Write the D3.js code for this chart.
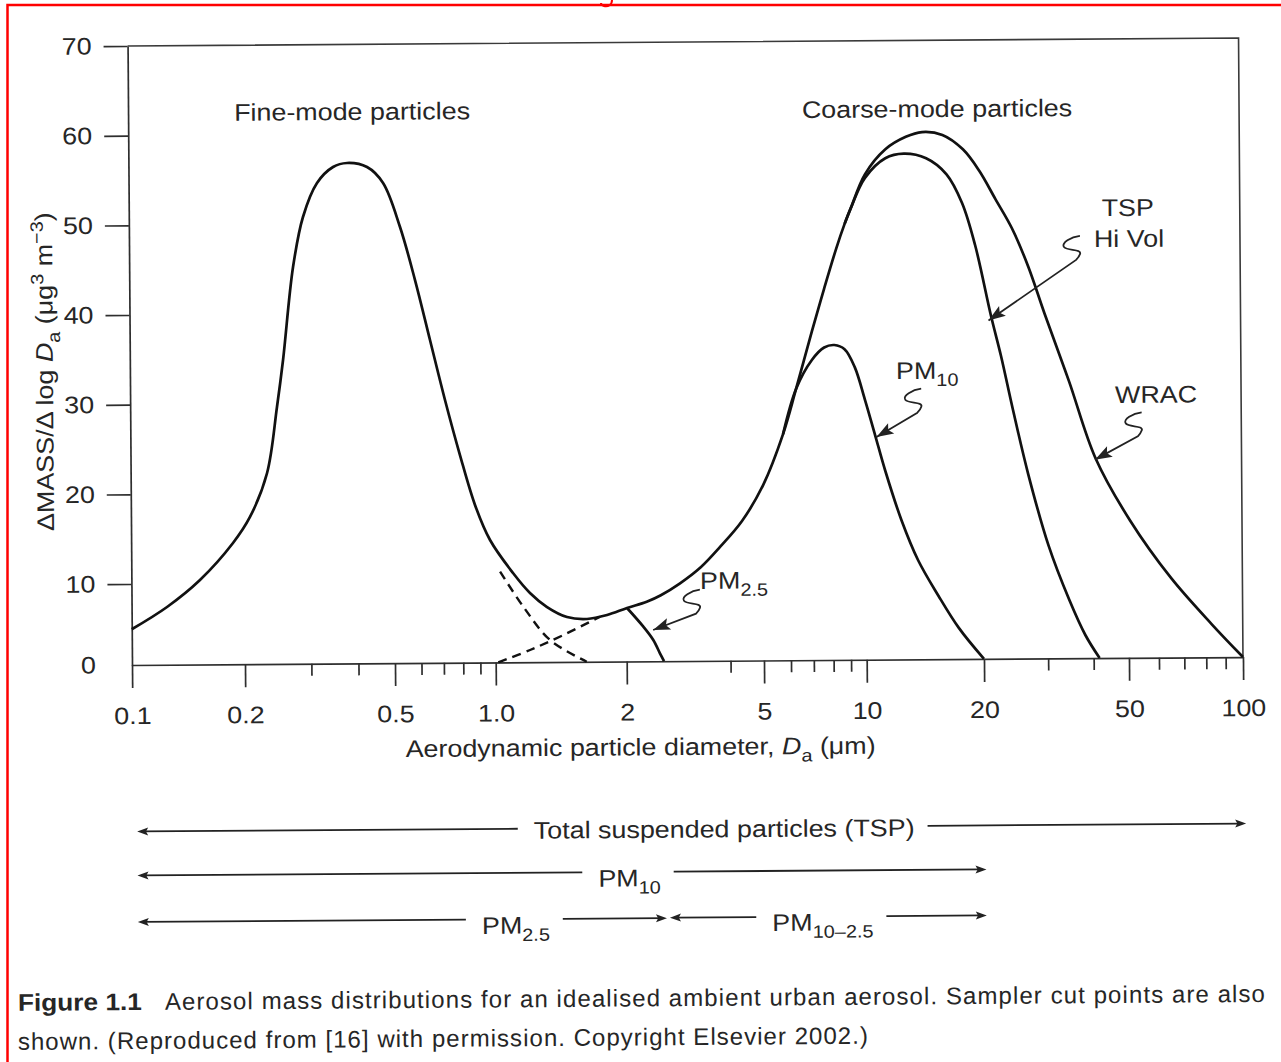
<!DOCTYPE html>
<html><head><meta charset="utf-8">
<script src="https://cdn.jsdelivr.net/npm/d3@7"></script>
<style>
html,body{margin:0;padding:0;background:#fff;}
svg{display:block;}
text{font-family:"Liberation Sans",Arial,Helvetica,sans-serif;fill:#262626;}
</style></head><body>
<svg id="chart" width="1281" height="1062"></svg>
<script>
// ---------------- data ----------------
const xTickValues = [0.1, 0.2, 0.5, 1, 2, 5, 10, 20, 50, 100];
const xTickLabels = ["0.1", "0.2", "0.5", "1.0", "2", "5", "10", "20", "50", "100"];
const xMinorTicks = [0.3, 0.4, 0.6, 0.7, 0.8, 0.9, 4, 6, 7, 8, 9, 30, 40, 60, 70, 80, 90];
const yTickValues = [0, 10, 20, 30, 40, 50, 60, 70];

// total distribution (fine mode + coarse mode, as collected by WRAC)
const totalD = [0.1, 0.1243, 0.1523, 0.1868, 0.2075, 0.2308, 0.2459, 0.2557, 0.2729, 0.2906, 0.3171, 0.35, 0.3813, 0.4307, 0.4747, 0.5288, 0.5848, 0.6464, 0.7146, 0.79, 0.874, 0.9676, 1.0997, 1.202, 1.315, 1.461, 1.624, 1.806, 2.01, 2.293, 2.52, 2.866, 3.299, 3.749, 4.347, 5.009, 5.749, 6.29, 7.018, 7.636, 8.308, 8.799, 9.176, 10.1, 11.41, 12.88, 14.18, 15.99, 18.04, 19.85, 21.97, 24.31, 26.92, 29.78, 34.67, 40.84, 50.68, 64.79, 82.86, 100];
const totalV = [4.41, 7.13, 10.39, 14.49, 17.38, 22.27, 29.62, 34.86, 45.22, 50.79, 54.57, 56.34, 56.78, 56.31, 54.52, 49.6, 43.67, 36.97, 30.27, 24.12, 18.54, 14.62, 10.92, 8.54, 6.79, 5.54, 5.28, 5.75, 6.6, 7.36, 8.15, 9.6, 11.44, 13.66, 16.54, 20.5, 26.2, 31.22, 37.63, 42.37, 46.87, 49.59, 51.32, 55.1, 57.88, 59.25, 59.77, 59.43, 57.81, 55.41, 52.21, 49.0, 44.7, 39.44, 31.85, 23.26, 16.26, 9.83, 4.07, 0];

// TSP Hi Vol branch
const tspD = [8.799, 9.176, 10.1, 11.4, 12.72, 14.51, 16.36, 17.91, 19.31, 21.24, 22.58, 24.3, 26.68, 30.24, 34.33, 37.99, 41.53];
const tspV = [49.59, 51.32, 54.7, 56.88, 57.38, 56.85, 55.04, 51.83, 47.13, 39.2, 34.73, 28.7, 21.52, 13.54, 7.28, 2.86, 0];

// PM10 branch
const pm10D = [5.749, 6.29, 7.008, 7.617, 8.163, 8.742, 9.357, 10.0, 10.61, 11.25, 12.37, 13.6, 15.32, 17.26, 20];
const pm10V = [26.2, 31.22, 34.44, 35.82, 36.09, 35.61, 33.61, 30.01, 26.02, 22.03, 16.44, 12.05, 7.84, 3.85, 0];

// PM2.5 branch
const pm25D = [2.01, 2.239, 2.391, 2.498, 2.566];
const pm25V = [6.6, 4.28, 2.63, 0.98, 0];

// dashed tails of the two modes
const fineTailD = [1.027, 1.16, 1.334, 1.619];
const fineTailV = [11.08, 6.85, 2.72, 0];
const coarseTailD = [1.014, 1.2, 1.432, 1.74];
const coarseTailV = [0, 1.5, 3.32, 5.55];

// annotation targets on curves (D, value)
const annNames = ["TSP Hi Vol", "PM10", "WRAC", "PM2.5"];
const annTargetD = [20.9, 10.7, 40.7, 2.39];
const annTargetV = [38.7, 25.8, 23.1, 3.86];

// size ranges shown below the chart
const rangeNames = ["TSP", "PM10", "PM2.5", "PM10-2.5"];
const rangeFrom = [0.1, 0.1, 0.1, 2.5];
const rangeTo = [100, 20, 2.5, 20];

// ---------------- layout ----------------
const STRETCH = 1.12;
const xRange = [132, 245, 395, 495.7, 626.7, 764, 866.7, 984, 1129, 1243];
const svg = d3.select("#chart");

// red frame of the scan
svg.append("rect").attr("x", 7.5).attr("y", 5).attr("width", 1400).attr("height", 1200)
  .attr("fill", "none").attr("stroke", "#ff0000").attr("stroke-width", 2.5);
svg.append("path").attr("d", "M612,0 C612,5 608,7 604,6 C602,5.5 601,4 601,3")
  .attr("fill", "none").attr("stroke", "#ff0000").attr("stroke-width", 2);

const g = svg.append("g").attr("transform", "rotate(-0.41 132 665)");

const x = d3.scaleLog().domain(xTickValues).range(xRange);
const y = d3.scaleLinear().domain([0, 10, 70]).range([665, 584, 46]);

function stretch(sel) {
  sel.each(function () {
    const t = d3.select(this);
    const tx = +t.attr("x") || 0, ty = +t.attr("y") || 0;
    const tr = t.attr("transform") || "";
    t.attr("x", 0).attr("y", 0).attr("transform", `${tr} translate(${tx},${ty}) scale(${STRETCH},1)`);
  });
  return sel;
}
function rich(parent, parts, fs) {
  const t = parent.append("text").attr("font-size", fs);
  let shift = 0;
  parts.forEach(p => {
    const sp = t.append("tspan").text(p[0]);
    let target = 0, size = fs;
    if (p[1] === "sub") { target = fs * 0.3; size = fs * 0.74; }
    if (p[1] === "sup") { target = -fs * 0.38; size = fs * 0.74; }
    if (p[1] === "it") sp.attr("font-style", "italic");
    sp.attr("font-size", size).attr("dy", target - shift);
    shift = target;
  });
  return t;
}
function arrowHead(parent, x1, y1, x2, y2, len, hw, col) {
  const a = Math.atan2(y2 - y1, x2 - x1), c = Math.cos(a), s = Math.sin(a);
  const bx = x2 - c * len, by = y2 - s * len;
  const nx = x2 - c * len * 0.8, ny = y2 - s * len * 0.8;
  parent.append("path")
    .attr("d", `M${x2},${y2} L${bx - s * hw},${by + c * hw} L${nx},${ny} L${bx + s * hw},${by - c * hw} Z`)
    .attr("fill", col).attr("stroke", "none");
}

// ---------------- axes ----------------
const axCol = "#2e2e2e";
const xAxis = g.append("g").attr("transform", "translate(0,665)")
  .call(d3.axisBottom(x).tickValues(xTickValues).tickFormat((d, i) => xTickLabels[i])
    .tickSize(23).tickPadding(19).tickSizeOuter(0));
const xMinor = g.append("g").attr("transform", "translate(0,665)")
  .call(d3.axisBottom(x).tickValues(xMinorTicks).tickFormat("").tickSize(12).tickSizeOuter(0));
xMinor.select(".domain").remove();
const yAxis = g.append("g").attr("transform", "translate(132,0)")
  .call(d3.axisLeft(y).tickValues(yTickValues).tickSize(24).tickPadding(12).tickSizeOuter(0));
yAxis.selectAll(".tick").filter(d => d === 0).select("line").remove();
[xAxis, xMinor, yAxis].forEach(a => {
  a.selectAll("path,line").attr("stroke", axCol).attr("stroke-width", 1.7);
  a.selectAll("text").attr("font-size", 24).attr("fill", "#2a2a2a")
    .attr("font-family", "'Liberation Sans',Arial,sans-serif");
});
stretch(xAxis.selectAll("text"));
stretch(yAxis.selectAll("text"));

// top & right frame
g.append("path").attr("d", `M${x(0.1)},${y(70)} H${x(100)} V${y(0)}`)
  .attr("fill", "none").attr("stroke", "#3a3a3a").attr("stroke-width", 1.6);

// axis titles
const xt = rich(g, [["Aerodynamic particle diameter, "], ["D", "it"], ["a", "sub"], [" (μm)"]], 24)
  .attr("text-anchor", "middle").attr("x", 640).attr("y", 759);
stretch(xt);
const yt = rich(g, [["ΔMASS/Δ log "], ["D", "it"], ["a", "sub"], [" (μg"], ["3", "sup"], [" m"], ["−3", "sup"], [")"]], 24)
  .attr("text-anchor", "middle");
yt.attr("transform", `translate(55,371) rotate(-90) scale(${STRETCH},1)`);

// ---------------- curves ----------------
const line = d3.line().x(d => x(d[0])).y(d => y(d[1])).curve(d3.curveCatmullRom.alpha(0.5));
const zip = (a, b) => a.map((v, i) => [v, b[i]]);
const curveCol = "#111";
[[totalD, totalV], [tspD, tspV], [pm10D, pm10V], [pm25D, pm25V]].forEach(([a, b]) => {
  g.append("path").attr("d", line(zip(a, b))).attr("fill", "none")
    .attr("stroke", curveCol).attr("stroke-width", 2.7).attr("stroke-linejoin", "round");
});
[[fineTailD, fineTailV], [coarseTailD, coarseTailV]].forEach(([a, b]) => {
  g.append("path").attr("d", line(zip(a, b))).attr("fill", "none")
    .attr("stroke", curveCol).attr("stroke-width", 2.4).attr("stroke-dasharray", "9,6");
});

// ---------------- annotations ----------------
stretch(g.append("text").attr("font-size", 24).attr("text-anchor", "middle")
  .attr("x", 356).attr("y", 121.5).text("Fine-mode particles"));
stretch(g.append("text").attr("font-size", 24).attr("text-anchor", "middle")
  .attr("x", 941).attr("y", 122.8).text("Coarse-mode particles"));
stretch(g.append("text").attr("font-size", 24).attr("text-anchor", "middle")
  .attr("x", 1131).attr("y", 223).text("TSP"));
stretch(g.append("text").attr("font-size", 24).attr("text-anchor", "middle")
  .attr("x", 1132).attr("y", 254).text("Hi Vol"));
stretch(g.append("text").attr("font-size", 24).attr("text-anchor", "middle")
  .attr("x", 1158).attr("y", 410).text("WRAC"));
stretch(rich(g, [["PM"], ["10", "sub"]], 24).attr("x", 898).attr("y", 384.5));
stretch(rich(g, [["PM"], ["2.5", "sub"]], 24).attr("x", 700.6).attr("y", 593));

const annOffset = [[92, -84], [45, -48], [47, -47], [47, -40]];
annNames.forEach((n, i) => {
  const tx = x(annTargetD[i]), ty = y(annTargetV[i]);
  const sx = tx + annOffset[i][0], sy = ty + annOffset[i][1];
  const ex = sx - 4, ey = sy + 24;
  g.append("path")
    .attr("d", `M${sx},${sy} C${sx - 9},${sy + 1} ${sx - 19},${sy + 7} ${sx - 16},${sy + 11} C${sx - 13},${sy + 15} ${sx + 2},${sy + 13} ${sx},${sy + 18} C${sx - 1},${sy + 21} ${sx - 3},${sy + 23} ${ex},${ey} L${tx},${ty}`)
    .attr("fill", "none").attr("stroke", "#222").attr("stroke-width", 1.8);
  arrowHead(g, ex, ey, tx, ty, 17, 6, "#222");
});

// ---------------- size ranges ----------------
const rangeParts = [[["Total suspended particles (TSP)"]], [["PM"], ["10", "sub"]], [["PM"], ["2.5", "sub"]], [["PM"], ["10–2.5", "sub"]]];
const rangeLabelX = [723, 628, 514, 821];
const rangeTextY = [841.5, 890, 936.5, 935.5];
const rangeLineY = [831.5, 875.5, 922, 921.5];
const rangeFromPad = [4, 4, 4, 8];
const rangeToPad = [2, 1, 5, 1];
rangeNames.forEach((n, i) => {
  const t = rich(g, rangeParts[i], 24).attr("text-anchor", "middle")
    .attr("x", rangeLabelX[i]).attr("y", rangeTextY[i]);
  stretch(t);
  const w = t.node().getBBox().width * STRETCH;
  const ly = rangeLineY[i];
  const x0 = x(rangeFrom[i]) + rangeFromPad[i], x1 = x(rangeTo[i]) + rangeToPad[i];
  const l0 = rangeLabelX[i] - w / 2 - 16, l1 = rangeLabelX[i] + w / 2 + 13;
  g.append("line").attr("x1", x0 + 4).attr("x2", l0).attr("y1", ly).attr("y2", ly)
    .attr("stroke", "#222").attr("stroke-width", 1.8);
  g.append("line").attr("x1", l1).attr("x2", x1 - 4).attr("y1", ly).attr("y2", ly)
    .attr("stroke", "#222").attr("stroke-width", 1.8);
  arrowHead(g, x0 + 20, ly, x0, ly, 11, 4, "#222");
  arrowHead(g, x1 - 20, ly, x1, ly, 11, 4, "#222");
});

// ---------------- caption ----------------
const capFont = "Lato, 'Open Sans', sans-serif";
g.append("text").attr("x", 15.5).attr("y", 1010).attr("font-family", capFont).attr("font-weight", "bold")
  .attr("font-size", 24).attr("fill", "#1e1e1e").attr("textLength", 124).attr("lengthAdjust", "spacingAndGlyphs")
  .text("Figure 1.1");
g.append("text").attr("x", 162.5).attr("y", 1010).attr("font-family", capFont)
  .attr("font-size", 24).attr("fill", "#1e1e1e").attr("textLength", 1100).attr("lengthAdjust", "spacing")
  .text("Aerosol mass distributions for an idealised ambient urban aerosol. Sampler cut points are also");
g.append("text").attr("x", 15.2).attr("y", 1049).attr("font-family", capFont)
  .attr("font-size", 24).attr("fill", "#1e1e1e").attr("textLength", 850).attr("lengthAdjust", "spacing")
  .text("shown. (Reproduced from [16] with permission. Copyright Elsevier 2002.)");
</script>
</body></html>
